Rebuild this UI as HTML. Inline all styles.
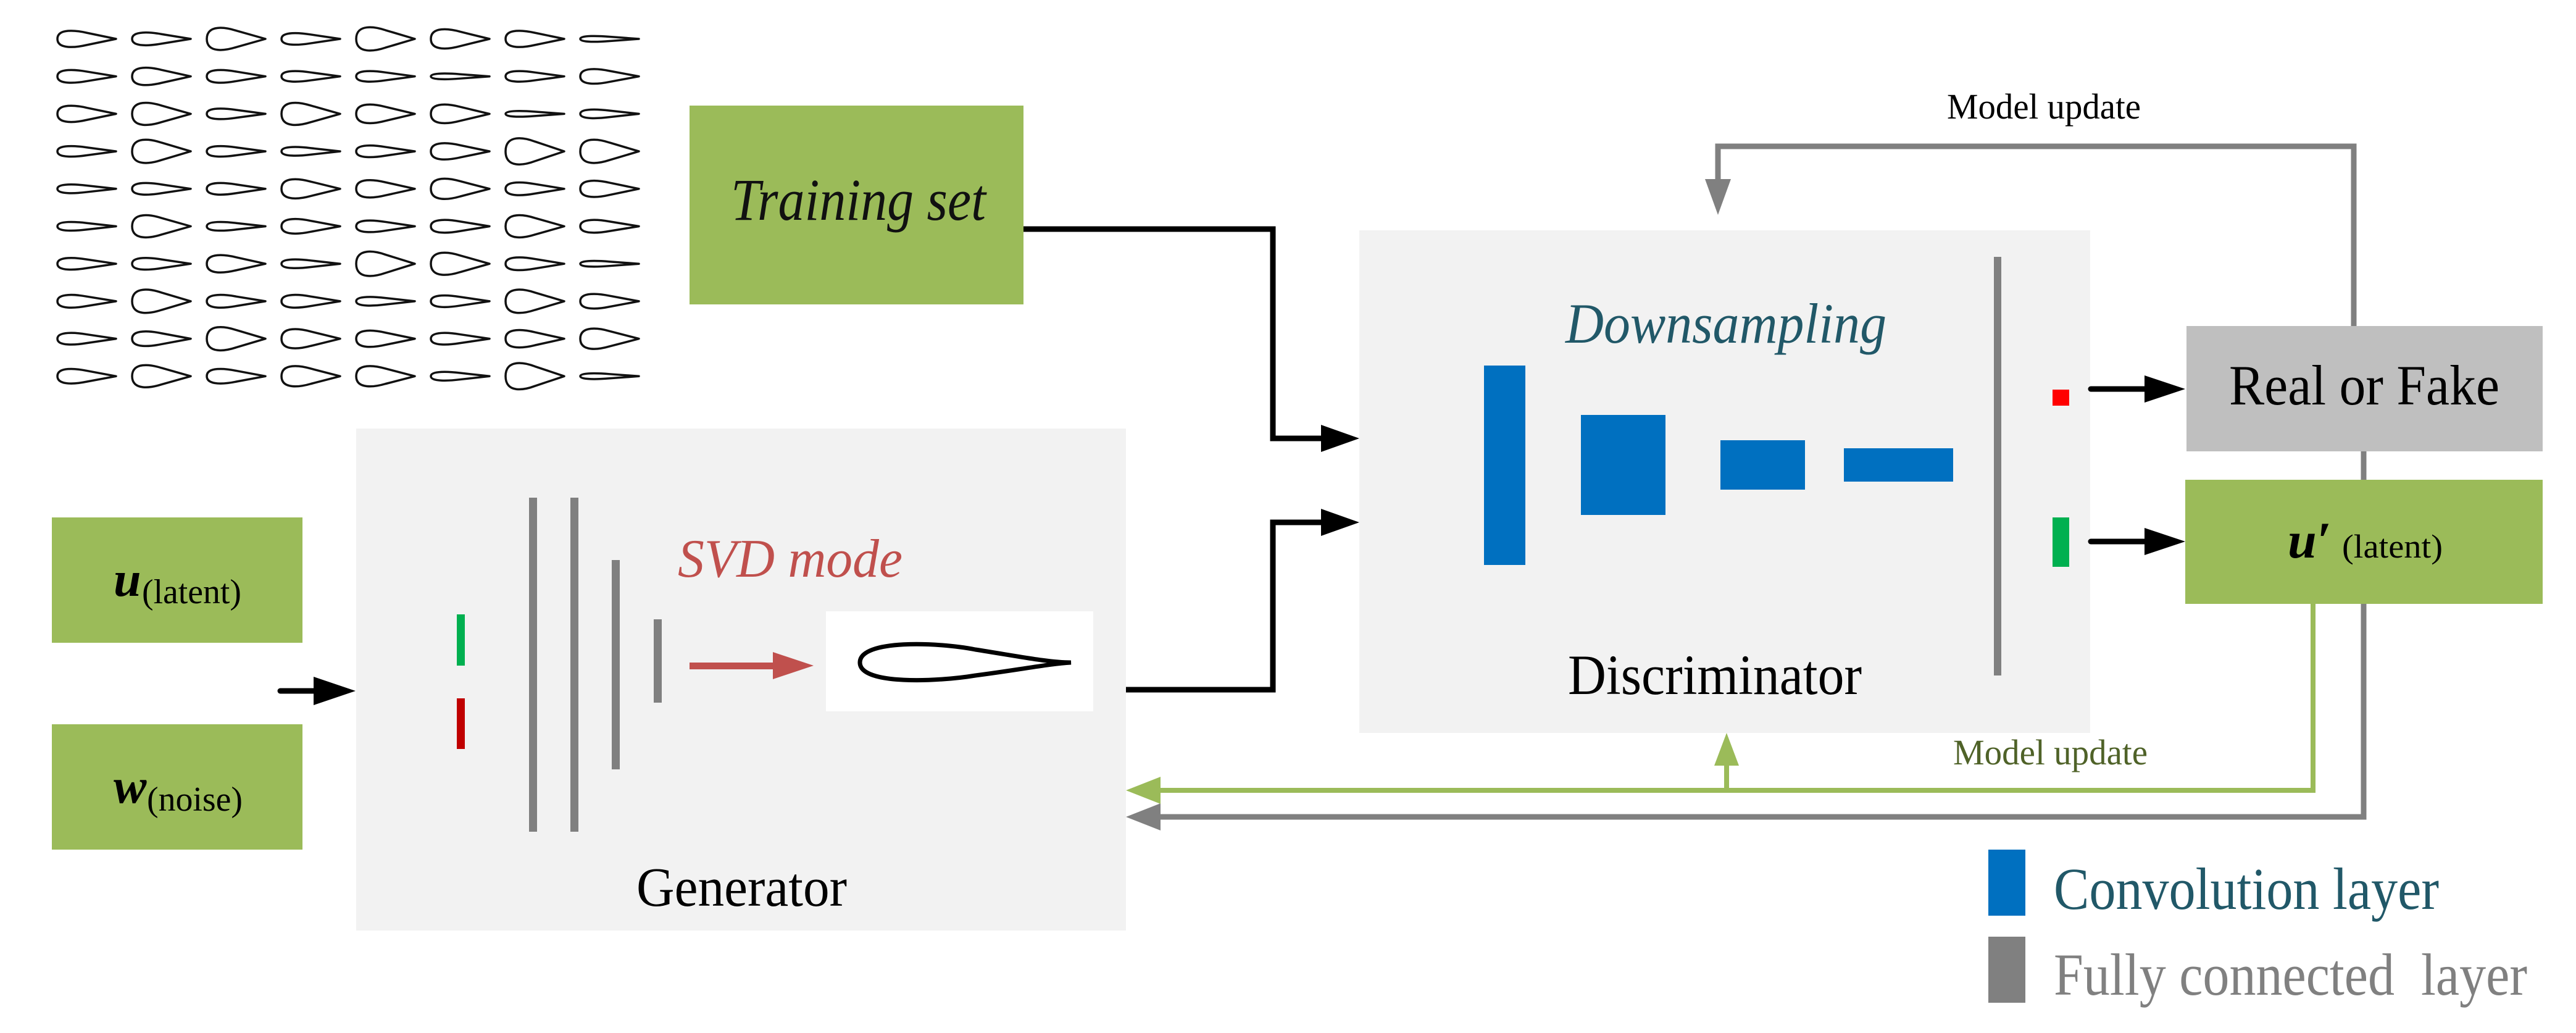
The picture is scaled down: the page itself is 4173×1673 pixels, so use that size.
<!DOCTYPE html>
<html><head><meta charset="utf-8"><style>
html,body{margin:0;padding:0;background:#fff;}
svg{display:block;}
svg text{font-family:"Liberation Serif","DejaVu Serif",serif;}
</style></head><body>
<svg width="4173" height="1673" viewBox="0 0 4173 1673" xmlns="http://www.w3.org/2000/svg" font-family="Liberation Serif, DejaVu Serif, serif">
<defs>
<path id="af" d="M0 0 C0 -1.5 30 -1.2 47.5 -0.85 L95 0 L47.5 0.85 C30 1.2 0 1.5 0 0Z" fill="none" stroke="#111" stroke-width="3.5" vector-effect="non-scaling-stroke" stroke-linejoin="round"/>
</defs>

<g>
<use href="#af" transform="translate(93,63) scale(1,11.6)"/><use href="#af" transform="translate(214,63) scale(1,9.1)"/><use href="#af" transform="translate(335,63) scale(1,15.8)"/><use href="#af" transform="translate(456,63) scale(1,8.3)"/><use href="#af" transform="translate(577,63) scale(1,16.6)"/><use href="#af" transform="translate(698,63) scale(1,13.7)"/><use href="#af" transform="translate(819,63) scale(1,11.6)"/><use href="#af" transform="translate(940,63) scale(1,4.1)"/>
<use href="#af" transform="translate(93,123.7) scale(1,9.1)"/><use href="#af" transform="translate(214,123.7) scale(1,12.4)"/><use href="#af" transform="translate(335,123.7) scale(1,9.1)"/><use href="#af" transform="translate(456,123.7) scale(1,7.5)"/><use href="#af" transform="translate(577,123.7) scale(1,7.5)"/><use href="#af" transform="translate(698,123.7) scale(1,4.1)"/><use href="#af" transform="translate(819,123.7) scale(1,7.5)"/><use href="#af" transform="translate(940,123.7) scale(1,10.4)"/>
<use href="#af" transform="translate(93,184.4) scale(1,11.6)"/><use href="#af" transform="translate(214,184.4) scale(1,15.8)"/><use href="#af" transform="translate(335,184.4) scale(1,7.5)"/><use href="#af" transform="translate(456,184.4) scale(1,15.8)"/><use href="#af" transform="translate(577,184.4) scale(1,13.3)"/><use href="#af" transform="translate(698,184.4) scale(1,13.3)"/><use href="#af" transform="translate(819,184.4) scale(1,4.1)"/><use href="#af" transform="translate(940,184.4) scale(1,6.2)"/>
<use href="#af" transform="translate(93,245.1) scale(1,7.5)"/><use href="#af" transform="translate(214,245.1) scale(1,16.6)"/><use href="#af" transform="translate(335,245.1) scale(1,7.5)"/><use href="#af" transform="translate(456,245.1) scale(1,6.2)"/><use href="#af" transform="translate(577,245.1) scale(1,8.3)"/><use href="#af" transform="translate(698,245.1) scale(1,11.6)"/><use href="#af" transform="translate(819,245.1) scale(1,18.7)"/><use href="#af" transform="translate(940,245.1) scale(1,16.6)"/>
<use href="#af" transform="translate(93,305.8) scale(1,6.2)"/><use href="#af" transform="translate(214,305.8) scale(1,8.3)"/><use href="#af" transform="translate(335,305.8) scale(1,8.3)"/><use href="#af" transform="translate(456,305.8) scale(1,13.7)"/><use href="#af" transform="translate(577,305.8) scale(1,12.4)"/><use href="#af" transform="translate(698,305.8) scale(1,14.5)"/><use href="#af" transform="translate(819,305.8) scale(1,9.1)"/><use href="#af" transform="translate(940,305.8) scale(1,11.6)"/>
<use href="#af" transform="translate(93,366.5) scale(1,6.2)"/><use href="#af" transform="translate(214,366.5) scale(1,15.8)"/><use href="#af" transform="translate(335,366.5) scale(1,6.2)"/><use href="#af" transform="translate(456,366.5) scale(1,10.4)"/><use href="#af" transform="translate(577,366.5) scale(1,8.3)"/><use href="#af" transform="translate(698,366.5) scale(1,9.1)"/><use href="#af" transform="translate(819,366.5) scale(1,15.8)"/><use href="#af" transform="translate(940,366.5) scale(1,9.1)"/>
<use href="#af" transform="translate(93,427.2) scale(1,8.3)"/><use href="#af" transform="translate(214,427.2) scale(1,8.3)"/><use href="#af" transform="translate(335,427.2) scale(1,12.4)"/><use href="#af" transform="translate(456,427.2) scale(1,6.2)"/><use href="#af" transform="translate(577,427.2) scale(1,17.4)"/><use href="#af" transform="translate(698,427.2) scale(1,15.8)"/><use href="#af" transform="translate(819,427.2) scale(1,9.1)"/><use href="#af" transform="translate(940,427.2) scale(1,4.1)"/>
<use href="#af" transform="translate(93,487.9) scale(1,9.1)"/><use href="#af" transform="translate(214,487.9) scale(1,16.6)"/><use href="#af" transform="translate(335,487.9) scale(1,9.1)"/><use href="#af" transform="translate(456,487.9) scale(1,9.1)"/><use href="#af" transform="translate(577,487.9) scale(1,6.2)"/><use href="#af" transform="translate(698,487.9) scale(1,8.3)"/><use href="#af" transform="translate(819,487.9) scale(1,16.6)"/><use href="#af" transform="translate(940,487.9) scale(1,10.4)"/>
<use href="#af" transform="translate(93,548.6) scale(1,8.3)"/><use href="#af" transform="translate(214,548.6) scale(1,10.4)"/><use href="#af" transform="translate(335,548.6) scale(1,16.6)"/><use href="#af" transform="translate(456,548.6) scale(1,13.7)"/><use href="#af" transform="translate(577,548.6) scale(1,11.6)"/><use href="#af" transform="translate(698,548.6) scale(1,8.3)"/><use href="#af" transform="translate(819,548.6) scale(1,12.4)"/><use href="#af" transform="translate(940,548.6) scale(1,14.5)"/>
<use href="#af" transform="translate(93,609.3) scale(1,10.4)"/><use href="#af" transform="translate(214,609.3) scale(1,15.8)"/><use href="#af" transform="translate(335,609.3) scale(1,10.4)"/><use href="#af" transform="translate(456,609.3) scale(1,14.5)"/><use href="#af" transform="translate(577,609.3) scale(1,14.5)"/><use href="#af" transform="translate(698,609.3) scale(1,6.2)"/><use href="#af" transform="translate(819,609.3) scale(1,18.7)"/><use href="#af" transform="translate(940,609.3) scale(1,4.1)"/>
</g>

<!-- Training set -->
<rect x="1117" y="171" width="541" height="322" fill="#9bbb59"/>
<text x="1184" y="356" font-size="96" font-style="italic" fill="#111" textLength="413" lengthAdjust="spacingAndGlyphs">Training set</text>

<!-- Generator -->
<rect x="577" y="694" width="1247" height="813" fill="#f2f2f2"/>
<rect x="740" y="995" width="13" height="83" fill="#00b050"/>
<rect x="740" y="1131" width="13" height="82" fill="#c00000"/>
<rect x="857" y="806" width="13" height="541" fill="#808080"/>
<rect x="924" y="806" width="13" height="541" fill="#808080"/>
<rect x="991" y="907" width="13" height="339" fill="#808080"/>
<rect x="1059" y="1003" width="13" height="135" fill="#808080"/>
<rect x="1117" y="1073" width="140" height="11" fill="#c0504d"/>
<polygon points="1252,1056 1318,1078 1252,1100" fill="#c0504d"/>
<text x="1098" y="934" font-size="88" font-style="italic" fill="#c0504d" textLength="364" lengthAdjust="spacingAndGlyphs">SVD mode</text>
<rect x="1338" y="990" width="433" height="162" fill="#fff"/>
<path d="M1393 1073 C1393 1035 1520 1040 1580 1052 C1650 1063 1700 1073 1735 1073 C1700 1075 1650 1085 1580 1094 C1520 1104 1393 1110 1393 1073 Z" fill="none" stroke="#000" stroke-width="7"/>
<text x="1031" y="1467" font-size="90" fill="#000" textLength="341" lengthAdjust="spacingAndGlyphs">Generator</text>

<!-- inputs -->
<rect x="84" y="838" width="406" height="203" fill="#9bbb59"/>
<rect x="84" y="1173" width="406" height="203" fill="#9bbb59"/>
<text x="184" y="965" font-size="80" font-weight="bold" font-style="italic" fill="#000">u</text>
<text x="230" y="977" font-size="56" fill="#000" textLength="161" lengthAdjust="spacingAndGlyphs">(latent)</text>
<text x="184" y="1300" font-size="80" font-weight="bold" font-style="italic" fill="#000">w</text>
<text x="238" y="1313" font-size="56" fill="#000" textLength="155" lengthAdjust="spacingAndGlyphs">(noise)</text>
<line x1="454" y1="1119" x2="512" y2="1119" stroke="#000" stroke-width="9" stroke-linecap="round"/>
<polygon points="508,1096 576,1119 508,1142" fill="#000"/>

<!-- connectors to discriminator -->
<polyline points="1658,371 2062,371 2062,710 2150,710" fill="none" stroke="#000" stroke-width="9"/>
<polygon points="2140,688 2202,710 2140,732" fill="#000"/>
<polyline points="1824,1117 2062,1117 2062,846 2150,846" fill="none" stroke="#000" stroke-width="9"/>
<polygon points="2140,824 2202,846 2140,868" fill="#000"/>

<!-- Discriminator -->
<rect x="2202" y="373" width="1184" height="814" fill="#f2f2f2"/>
<text x="2536" y="555" font-size="92" font-style="italic" fill="#215868" textLength="520" lengthAdjust="spacingAndGlyphs">Downsampling</text>
<rect x="2404" y="592" width="67" height="323" fill="#0070c0"/>
<rect x="2561" y="672" width="137" height="162" fill="#0070c0"/>
<rect x="2787" y="713" width="137" height="80" fill="#0070c0"/>
<rect x="2987" y="726" width="177" height="54" fill="#0070c0"/>
<rect x="3230" y="416" width="12" height="678" fill="#808080"/>
<rect x="3325" y="631" width="27" height="26" fill="#ff0000"/>
<rect x="3325" y="838" width="27" height="80" fill="#00b050"/>
<text x="2540" y="1124" font-size="92" fill="#000" textLength="476" lengthAdjust="spacingAndGlyphs">Discriminator</text>

<line x1="3387" y1="630" x2="3480" y2="630" stroke="#000" stroke-width="9" stroke-linecap="round"/>
<polygon points="3474,608 3540,630 3474,652" fill="#000"/>
<line x1="3387" y1="877" x2="3480" y2="877" stroke="#000" stroke-width="9" stroke-linecap="round"/>
<polygon points="3474,855 3540,877 3474,899" fill="#000"/>

<!-- output boxes -->
<rect x="3542" y="528" width="577" height="203" fill="#bfbfbf"/>
<text x="3611" y="655" font-size="92" fill="#000" textLength="438" lengthAdjust="spacingAndGlyphs">Real or Fake</text>
<rect x="3540" y="777" width="579" height="201" fill="#9bbb59"/>
<text x="3706" y="903" font-size="84" font-weight="bold" font-style="italic" fill="#000">u′</text>
<text x="3794" y="903" font-size="54" fill="#000" textLength="163" lengthAdjust="spacingAndGlyphs">(latent)</text>

<!-- top model update loop -->
<polyline points="3813,528 3813,237 2783,237 2783,300" fill="none" stroke="#808080" stroke-width="9"/>
<polygon points="2762,290 2804,290 2783,348" fill="#808080"/>
<text x="3154" y="192" font-size="58" fill="#000" textLength="314" lengthAdjust="spacingAndGlyphs">Model update</text>
<line x1="3829" y1="731" x2="3829" y2="777" stroke="#808080" stroke-width="9"/>

<!-- bottom loops -->
<polyline points="3829,978 3829,1323 1870,1323" fill="none" stroke="#808080" stroke-width="9"/>
<polygon points="1880,1301 1824,1323 1880,1345" fill="#808080"/>
<polyline points="3747,978 3747,1280 1870,1280" fill="none" stroke="#9bbb59" stroke-width="8"/>
<polygon points="1880,1258 1824,1280 1880,1302" fill="#9bbb59"/>
<line x1="2797" y1="1280" x2="2797" y2="1230" stroke="#9bbb59" stroke-width="8"/>
<polygon points="2777,1240 2817,1240 2797,1187" fill="#9bbb59"/>
<text x="3164" y="1238" font-size="58" fill="#4f6228" textLength="315" lengthAdjust="spacingAndGlyphs">Model update</text>

<!-- legend -->
<rect x="3221" y="1376" width="60" height="107" fill="#0070c0"/>
<text x="3327" y="1472" font-size="96" fill="#215868" textLength="624" lengthAdjust="spacingAndGlyphs">Convolution layer</text>
<rect x="3221" y="1517" width="60" height="107" fill="#808080"/>
<text x="3327" y="1611" font-size="96" fill="#808080" textLength="767" lengthAdjust="spacingAndGlyphs" xml:space="preserve">Fully connected  layer</text>
</svg>
</body></html>
